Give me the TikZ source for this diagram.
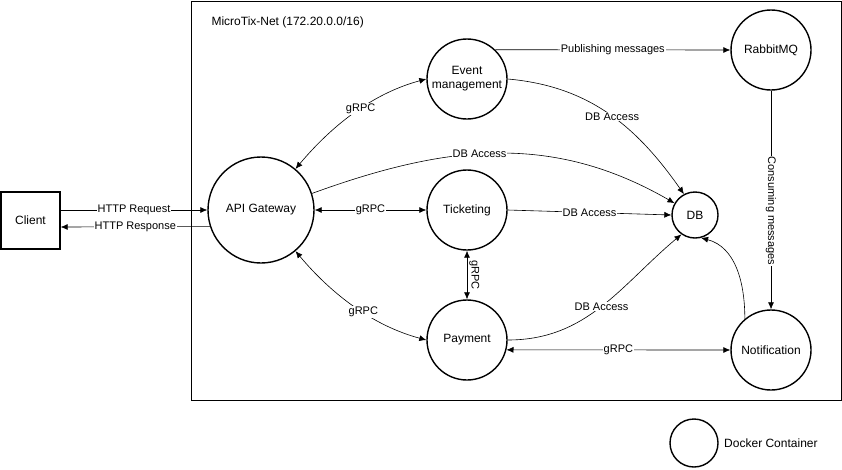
\documentclass[tikz,border=0pt]{standalone}
\usepackage{fontspec}
\setmainfont{Liberation Sans}
\usetikzlibrary{arrows.meta}
\tikzset{>={Latex[length=7pt,width=6pt]}}

\begin{document}
\begin{tikzpicture}[x=1pt, y=1pt,
  container/.style={circle, draw, line width=1.4pt, minimum size=80pt, inner sep=0pt, align=center, font=\fontsize{12}{14}\selectfont},
  lbl/.style={fill=white, inner sep=1pt, font=\fontsize{11}{13}\selectfont},
  link/.style={line width=0.6pt}]
\useasboundingbox (0,0) rectangle (842,-469);
\draw[line width=0.8pt] (191.5,-1) rectangle (841,-400.5);
\node[anchor=west, font=\fontsize{12}{14}\selectfont] (net) at (208,-22) {MicroTix-Net (172.20.0.0/16)};

\node[draw, line width=1.4pt, minimum width=59pt, minimum height=57pt, font=\fontsize{12}{14}\selectfont] (client) at (30.5,-220.5) {Client};
\node[container, minimum size=106pt] (gw) at (261,-210) {API Gateway};
\node[container] (evt) at (467,-79) {Event\\management};
\node[container] (tkt) at (467,-210) {Ticketing};
\node[container] (pay) at (467,-340) {Payment};
\node[container] (mq) at (771,-50) {RabbitMQ};
\node[container, minimum size=46pt] (db) at (695,-215) {DB};
\node[container] (noti) at (771,-350) {Notification};
\node[container, minimum size=48pt] (legend) at (694,-443) {};
\node[anchor=west, xshift=2pt, font=\fontsize{12}{14}\selectfont] (legendtxt) at (legend.east) {Docker Container};

\draw[link, ->] ([yshift=10.5pt]client.east) -- node[lbl] {HTTP Request} (gw.west);
\draw[link, ->] (gw.198.7) -- node[lbl] {HTTP Response} ([yshift=-6.5pt]client.east);
\draw[link, <->] (gw.east) -- node[lbl] {gRPC} (tkt.west);
\draw[link, <->] (gw.50) to[out=50, in=195, looseness=0.9] node[lbl, pos=.55] {gRPC} (evt.west);
\draw[link, <->] (gw.-50) to[out=-50, in=165, looseness=0.9] node[lbl, pos=.57] {gRPC} (pay.west);
\draw[link, ->] (gw.18) to[out=20, in=150] node[lbl, pos=.45] {DB Access} (db.150);
\draw[link, ->] (evt.east) to[out=-5, in=125] node[lbl, pos=.52] {DB Access} (db.118);
\draw[link, ->] (tkt.east) -- node[lbl] {DB Access} (db.west);
\draw[link, ->] (pay.east) to[out=0, in=220] node[lbl] {DB Access} (db.235);
\draw[link, ->] (noti.130) to[out=90, in=-15] (db.-75);
\draw[link, ->] (evt.46.5) -- node[lbl] {Publishing messages} (mq.west);
\draw[link, ->] (mq.south) -- node[lbl, rotate=-90, pos=.55] {Consuming messages} (noti.north);
\draw[link, <->] (tkt.south) -- node[anchor=south, rotate=-90, inner sep=2pt, font=\fontsize{11}{13}\selectfont] {gRPC} (pay.north);
\draw[link, <->] (pay.-14.5) -- node[lbl] {gRPC} (noti.west);
\end{tikzpicture}
\end{document}
